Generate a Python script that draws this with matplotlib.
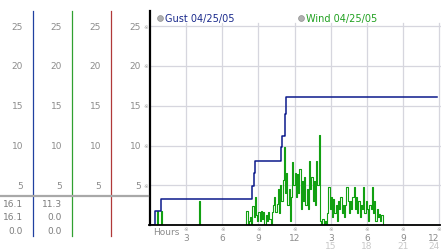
import matplotlib
matplotlib.use("Agg")
import matplotlib.pyplot as plt
from matplotlib.transforms import blended_transform_factory as btf

plt.rcParams['font.family'] = ['DejaVu Sans']

# ---------------- data ----------------
gust_label = "Gust 04/25/05"
wind_label = "Wind 04/25/05"
gust_hours = [0.0, 0.38, 0.88, 8.50, 8.60, 8.72, 10.80, 10.86, 10.92, 11.15, 11.20, 11.25, 23.80]
gust_mph = [0.0, 1.75, 3.3, 4.9, 6.5, 8.05, 8.05, 9.8, 11.2, 11.2, 14.0, 16.1, 16.1]

# quiet early part of the day
wind_early_hours = [0.0, 0.62, 0.70, 0.78, 0.95, 1.02, 1.10, 4.00, 4.05, 4.12, 7.80, 7.90]
wind_early_mph = [0.0, 1.8, 0.0, 0.0, 1.8, 0.0, 0.0, 0.0, 3.0, 0.0, 0.0, 0.0]
# busy part, sampled every 0.1 h from 8.0 h to 19.3 h
wind_busy_start = 8.0
wind_busy_mph = [
    1.8, 0.0, 0.5, 1.0, 0.0, 2.4, 1.0, 3.5, 1.2, 0.5,   # 8.0 - 8.9
    1.6, 0.5, 1.8, 0.8, 1.6, 0.0, 1.2, 0.5, 1.6, 0.8,   # 9.0 - 9.9
    0.0, 1.6, 2.5, 3.5, 1.6, 2.6, 4.5, 1.5, 5.0, 3.0,   # 10.0 - 10.9
    5.6, 9.8, 4.0, 6.5, 2.5, 4.5, 0.5, 3.5, 7.9, 5.0,   # 11.0 - 11.9
    6.6, 3.5, 6.4, 4.0, 7.0, 2.0, 5.5, 3.0, 6.0, 2.5,   # 12.0 - 12.9
    4.5, 2.0, 8.1, 4.5, 6.0, 3.0, 5.5, 2.5, 8.1, 5.0,   # 13.0 - 13.9
    11.3, 0.5, 0.0, 0.7, 0.0, 0.5, 0.0, 1.5, 4.8, 2.0,  # 14.0 - 14.9
    3.5, 1.0, 3.3, 1.5, 2.5, 0.5, 3.0, 2.0, 3.5, 1.5,   # 15.0 - 15.9
    2.5, 1.0, 2.5, 4.8, 3.0, 1.5, 3.0, 2.0, 3.5, 4.8,   # 16.0 - 16.9
    2.0, 3.5, 1.5, 3.0, 1.0, 2.5, 2.0, 4.8, 1.5, 3.0,   # 17.0 - 17.9
    2.0, 0.5, 2.5, 2.0, 4.8, 1.5, 3.0, 0.5, 2.0, 1.0,   # 18.0 - 18.9
    1.4, 0.5, 1.2, 0.0,                                 # 19.0 - 19.3
]
wind_late_hours = [19.4, 23.8]
wind_late_mph = [0.0, 0.0]

wind_hours = (wind_early_hours
              + [round(wind_busy_start + 0.1 * i, 2) for i in range(len(wind_busy_mph))]
              + wind_late_hours)
wind_mph = wind_early_mph + wind_busy_mph + wind_late_mph

y_ticks = [5, 10, 15, 20, 25]
hour_ticks = [3, 6, 9, 12, 15, 18, 21, 24]

# ---------------- layout ----------------
W, H = 442, 253
fx = lambda px: px / W
fy = lambda py: 1 - py / H

fig = plt.figure(figsize=(W / 100, H / 100), dpi=100)
fig.patch.set_facecolor('white')

ax = fig.add_axes([fx(149), fy(226), fx(441) - fx(149), fy(12) - fy(226)])
ax.set_xlim(-1 / 12.05, 291 / 12.05)
ax.set_ylim(0, 214 / 7.95)
ax.set_axis_off()

grid_c = '#d6d6de'
for yv in y_ticks:
    ax.plot([0, 24.05], [yv, yv], color=grid_c, lw=0.9, zorder=1)
for h in hour_ticks:
    ax.plot([h, h], [0, 25.4], color=grid_c, lw=0.9, zorder=1)

ax.plot(wind_hours, wind_mph, drawstyle='steps-post', color='#12a012', lw=0.8, zorder=3)
ax.plot(gust_hours, gust_mph, drawstyle='steps-post', color='#0c1a8c', lw=1.1, zorder=4)

# axes lines
ax.plot([-1 / 12.05, 24.1], [0, 0], color='black', lw=1.3, zorder=5, clip_on=False)
ax.plot([-0.5 / 12.05, -0.5 / 12.05], [0, 214 / 7.95], color='black', lw=1.6, zorder=5, clip_on=False)

# ---------------- left panel ----------------
tl = btf(fig.transFigure, ax.transData)
label_c = '#8c8c8c'
for px, col in [(33, '#2040a0'), (72, '#30a030'), (111, '#b03838')]:
    fig.add_artist(plt.Line2D([fx(px), fx(px)], [fy(12), fy(237)], color=col, lw=0.9))
fig.add_artist(plt.Line2D([0, fx(148)], [fy(197), fy(197)], color='#a8a8a8', lw=1.6))

for yv in y_ticks:
    for px in (23, 62, 101, 141):
        ax.text(fx(px), yv, str(yv), transform=tl, ha='right', va='center',
                fontsize=6.5, color=label_c)
    ax.text(fx(145.5), yv, '※', transform=tl, ha='center', va='center',
            fontsize=4, color='#a0a0a0')

stats_gust = [max(gust_mph), gust_mph[-1], min(gust_mph)]
stats_wind = [max(wind_mph), wind_mph[-1], min(wind_mph)]
for py, g, w in zip([205, 218, 232], stats_gust, stats_wind):
    fig.text(fx(23), fy(py), f"{g:.1f}", ha='right', va='center', fontsize=6.5, color='#7c7c7c')
    fig.text(fx(62), fy(py), f"{w:.1f}", ha='right', va='center', fontsize=6.5, color='#7c7c7c')

# ---------------- legend ----------------
for px, txt, col in [(160, gust_label, '#1a2a8c'), (301, wind_label, '#20a020')]:
    fig.add_artist(plt.Line2D([fx(px)], [fy(19)], marker='o', markersize=4.2,
                              markerfacecolor='#b0b0b0', markeredgecolor='#909090',
                              markeredgewidth=0.5, linestyle='none'))
    fig.text(fx(px + 5), fy(19), txt, ha='left', va='center', fontsize=7, color=col)

# ---------------- hours axis ----------------
tb = btf(ax.transData, fig.transFigure)
fig.text(fx(153), fy(233), 'Hours', ha='left', va='center', fontsize=6.5, color=label_c)
for h in hour_ticks:
    lab = h if h <= 12 else h - 12
    ha = 'right' if h == 24 else 'center'
    ax.text(h, fy(230), '※', transform=tb, ha='center', va='center', fontsize=4, color='#a0a0a0')
    ax.text(h, fy(238.5), str(lab), transform=tb, ha=ha, va='center', fontsize=6.5, color=label_c)
    if h > 12:
        ax.text(h, fy(247), str(h), transform=tb, ha=ha, va='center', fontsize=6.5, color='#c8c8c8')

fig.savefig('out.png', dpi=100, facecolor='white')
